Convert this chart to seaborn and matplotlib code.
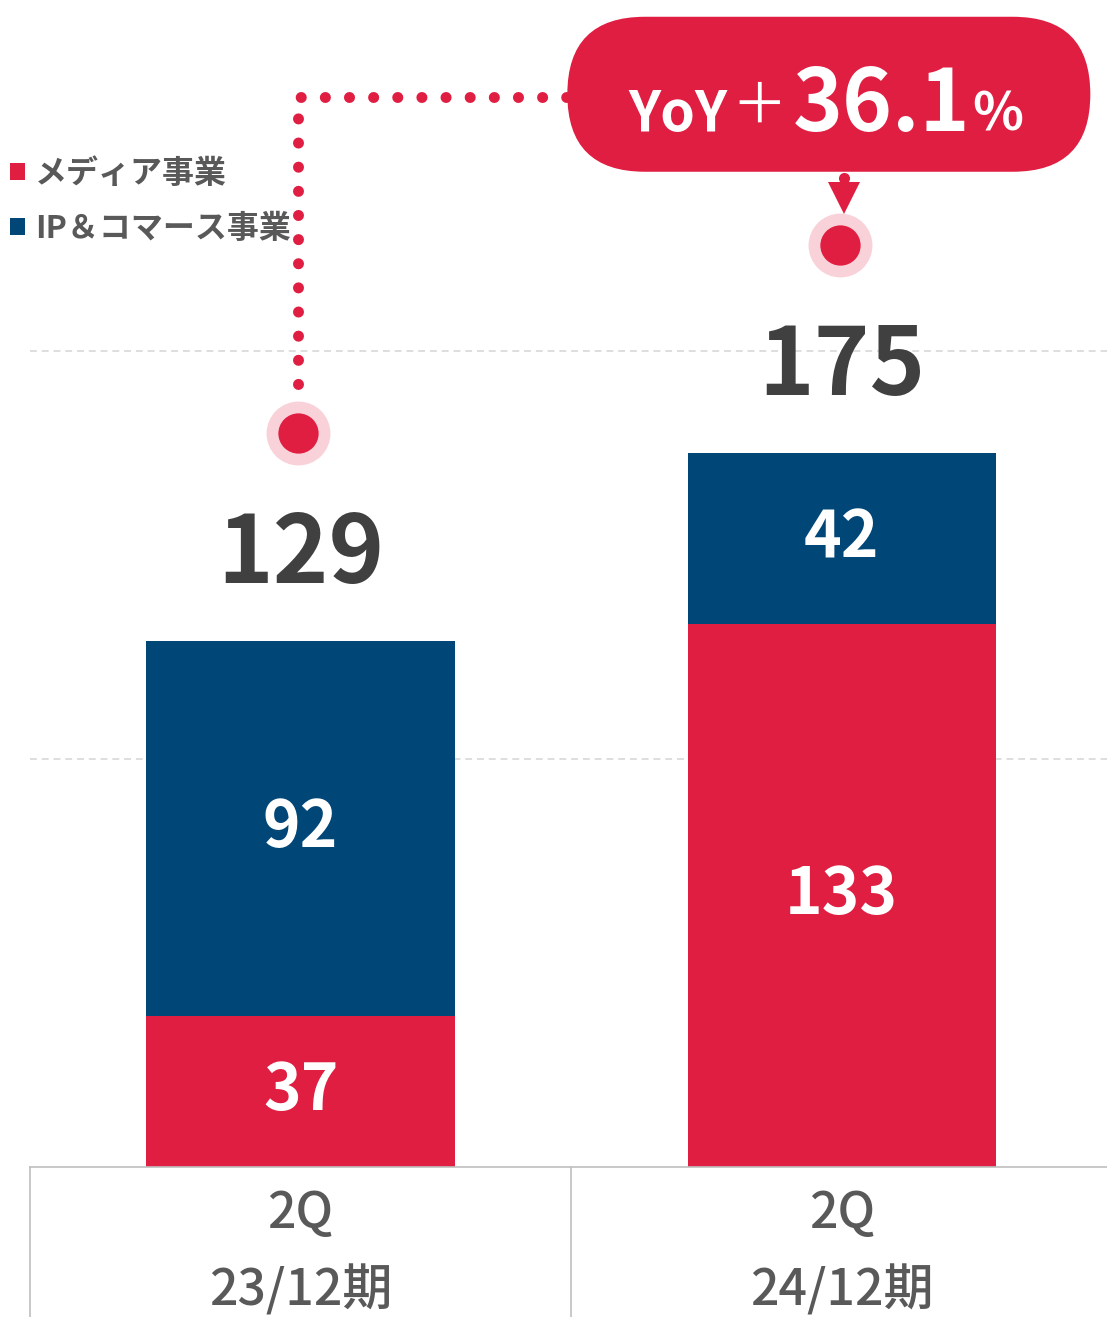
import matplotlib
matplotlib.use("Agg")
import matplotlib.pyplot as plt
import seaborn as sns
import numpy as np
import pandas as pd
from matplotlib.patches import Patch, FancyBboxPatch
from matplotlib.transforms import IdentityTransform

# data
periods = ["2Q\n23/12期", "2Q\n24/12期"]
media = [37, 133]
ip_commerce = [92, 42]
series_names = ["メディア事業", "IP＆コマース事業"]
yoy_label = "36.1"

RED = "#E01E41"
BLUE = "#004677"
PINK = "#F9D1D9"
GREY_TXT = "#595959"
DARK_TXT = "#404040"

sns.set_style("white")
plt.rcParams['font.family'] = ['Noto Sans CJK JP', 'DejaVu Sans']

totals = [m + i for m, i in zip(media, ip_commerce)]
df = pd.DataFrame({"period": periods, "media": media, "ip": ip_commerce, "total": totals})

fig = plt.figure(figsize=(11.07, 13.17), dpi=100)
ax = fig.add_axes([30/1107, 150/1317, 1 - 30/1107, 1167/1317])

## stacked bars: total (blue) under media (red)
sns.barplot(ax=ax, data=df, x="period", y="total", color=BLUE, saturation=1, width=0.57, linewidth=0)
sns.barplot(ax=ax, data=df, x="period", y="media", color=RED, saturation=1, width=0.57, linewidth=0)
ax.set_xlim(-0.5, 1.49)
ax.set_ylim(0, 286)
ax.set_autoscale_on(False)
ax.set_xlabel("")
ax.set_ylabel("")
ax.set_yticks([100, 200])
ax.set_yticklabels([])
ax.tick_params(axis='y', length=0)
ax.tick_params(axis='x', length=0, pad=16, labelsize=36, labelcolor=GREY_TXT)
for lab in ax.get_xticklabels():
    lab.set_fontweight('medium')
    lab.set_linespacing(1.64)
ax.set_axisbelow(True)
ax.yaxis.grid(True, color="#D4D4D4", linewidth=1.1, linestyle=(0, (4.5, 3.2)))
for s in ['top', 'right', 'left']:
    ax.spines[s].set_visible(False)
ax.spines['bottom'].set_color("#BFBFBF")
ax.spines['bottom'].set_linewidth(1.2)

# separators under the axis
for xs in [-0.5, 0.5]:
    ax.plot([xs, xs], [0, -37], color="#BFBFBF", linewidth=1.2, clip_on=False)

## segment labels
for i, row in df.iterrows():
    ax.text(i, row.media / 2, f"{row.media}", ha='center', va='center', color='white',
            fontsize=46, fontweight='bold')
    ax.text(i, row.media + row.ip / 2, f"{row.ip}", ha='center', va='center', color='white',
            fontsize=46, fontweight='bold')
    ax.text(i, row.total + 21, f"{row.total}", ha='center', va='center', color=DARK_TXT,
            fontsize=68, fontweight='bold')
    # halo markers
    ax.plot(i - 0.004, row.total + 51, marker='o', markersize=46, color=PINK, markeredgewidth=0, clip_on=False)
    ax.plot(i - 0.004, row.total + 51, marker='o', markersize=29, color=RED, markeredgewidth=0, clip_on=False)

## dotted connector
top_y = 262.3
ax.plot([-0.004, -0.004, 0.495], [totals[0] + 63, top_y, top_y], color=RED, linewidth=7.9,
        linestyle=(0, (0.01, 2.19)), dash_capstyle='round', clip_on=False)

# arrow below the bubble
ax.plot(1.004, 242.4, marker='o', markersize=8, color=RED, markeredgewidth=0, clip_on=False)
ax.plot(1.004, 237.5, marker='v', markersize=23, color=RED, markeredgewidth=0, clip_on=False)

## YoY bubble
fig.canvas.draw()
cx, cy = ax.transData.transform((0.976, 262.9))
bw, bh = 523, 155
bubble = FancyBboxPatch((cx - bw/2, cy - bh/2), bw, bh,
                        boxstyle=f"round,pad=0,rounding_size={bh/2}",
                        facecolor=RED, edgecolor='none', transform=IdentityTransform(),
                        zorder=5, clip_on=False)
ax.add_patch(bubble)

def bubble_text(s, dx, dy, size, weight='bold', va='baseline'):
    ax.annotate(s, xy=(0.976, 262.9), xytext=(dx * 0.72, -dy * 0.72), textcoords='offset points',
                ha='left', va=va, color='white', fontsize=size, fontweight=weight,
                zorder=6, annotation_clip=False)

bubble_text("YoY", -200, 36.5, 40)
bubble_text("＋", -97, 12.5, 40, weight='normal', va='center')
bubble_text(yoy_label, -36, 36.5, 61)
bubble_text("%", 143, 36.5, 38)

## legend
handles = [Patch(facecolor=RED, edgecolor='none'), Patch(facecolor=BLUE, edgecolor='none')]
leg = ax.legend(handles, series_names, loc='upper left', bbox_to_anchor=(10/1107, 1 - 158/1317),
                bbox_transform=fig.transFigure, frameon=False, labelcolor=GREY_TXT,
                handlelength=0.46, handleheight=0.46, handletextpad=0.33, labelspacing=0.72,
                borderpad=0, borderaxespad=0, prop={'weight': 'bold', 'size': 23})

fig.savefig("out.png", dpi=100)
